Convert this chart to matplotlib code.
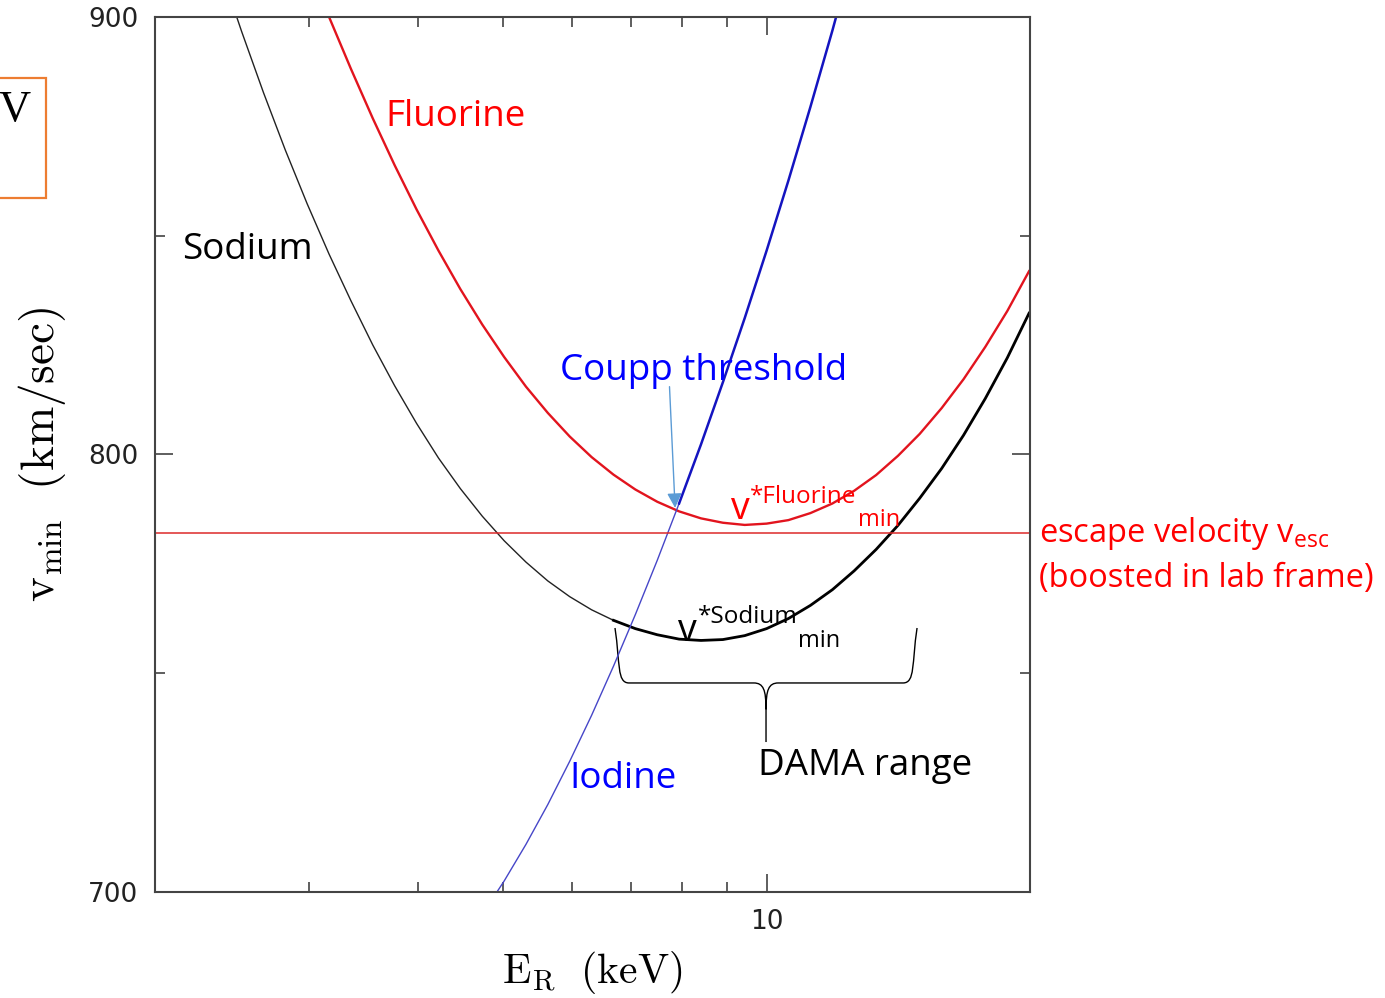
import matplotlib
matplotlib.use('Agg')
import matplotlib.pyplot as plt
from matplotlib.path import Path
from matplotlib.patches import PathPatch, Rectangle
from matplotlib.ticker import FixedLocator, FixedFormatter, NullFormatter

plt.rcParams['mathtext.fontset'] = 'cm'

# values: recoil energy (keV) and v_min (km/s)
sodium_E = [2.371, 2.512, 2.661, 2.818, 2.985, 3.162, 3.350, 3.548, 3.758, 3.981,
            4.217, 4.467, 4.732, 5.012, 5.309, 5.623, 5.957, 6.310, 6.683, 7.079,
            7.499, 7.943, 8.414, 8.913, 9.441, 10.00, 10.59, 11.22, 11.89, 12.59,
            13.34, 14.13, 14.96, 15.85, 16.79, 17.78, 18.84, 19.95]
sodium_v = [911.5, 896.7, 882.7, 869.6, 857.3, 845.8, 835.1, 825.0, 815.7, 807.1,
            799.2, 792.2, 785.9, 780.3, 775.4, 771.1, 767.5, 764.5, 762.1, 760.2,
            758.8, 757.8, 757.5, 757.7, 758.6, 760.2, 762.5, 765.5, 769.1, 773.4,
            778.3, 783.8, 790.0, 796.8, 804.4, 812.8, 822.1, 832.3]

fluorine_E = [3.162, 3.350, 3.548, 3.758, 3.981, 4.217, 4.467, 4.732, 5.012, 5.309,
              5.623, 5.957, 6.310, 6.683, 7.079, 7.499, 7.943, 8.414, 8.913, 9.441,
              10.00, 10.59, 11.22, 11.89, 12.59, 13.34, 14.13, 14.96, 15.85, 16.79,
              17.78, 18.84, 19.95]
fluorine_v = [900.0, 888.1, 876.8, 866.1, 856.0, 846.6, 837.8, 829.7, 822.3, 815.5,
              809.5, 804.1, 799.4, 795.4, 792.0, 789.2, 787.0, 785.4, 784.4, 783.9,
              784.2, 785.0, 786.6, 788.8, 791.7, 795.3, 799.7, 804.7, 810.6, 817.2,
              824.6, 832.8, 841.9]

iodine_E = [4.732, 5.012, 5.309, 5.623, 5.957, 6.310, 6.683, 7.079, 7.499, 7.943,
            8.414, 8.913, 9.441, 10.00, 10.59, 11.22, 11.89, 12.59]
iodine_v = [694.9, 702.5, 710.9, 720.0, 729.9, 740.4, 751.6, 763.4, 775.8, 788.8,
            802.3, 816.5, 831.2, 846.6, 862.6, 879.4, 896.9, 915.1]

v_esc = 782

x_major_ticks = [10]
x_major_labels = ['10']
x_minor_ticks = [2, 3, 4, 5, 6, 7, 8, 9, 20]
y_major_ticks = [700, 800, 900]
y_minor_ticks = [750, 850]

sodium_split = 18   # sodium curve drawn heavier from here on
iodine_split = 9    # Coupp part of the iodine line

fig = plt.figure(figsize=(13.85, 9.98), dpi=100)
ax = fig.add_axes([0.1119, 0.1062, 0.6318, 0.8768])

ax.set_xscale('log')
ax.set_xlim(2, 20)
ax.set_ylim(700, 900)

ax.plot(sodium_E[:sodium_split + 1], sodium_v[:sodium_split + 1], color='#222222', lw=1.0)
ax.plot(sodium_E[sodium_split:], sodium_v[sodium_split:], color='black', lw=2.0)
ax.plot(fluorine_E, fluorine_v, color='#E2141E', lw=1.7)
ax.plot(iodine_E[:iodine_split + 1], iodine_v[:iodine_split + 1], color='#4646C8', lw=1.0)
ax.plot(iodine_E[iodine_split:], iodine_v[iodine_split:], color='#1414C0', lw=1.8)
ax.axhline(v_esc, color='#DD2A2A', lw=1.1)

# axes styling
ax.xaxis.set_major_locator(FixedLocator(x_major_ticks))
ax.xaxis.set_major_formatter(FixedFormatter(x_major_labels))
ax.xaxis.set_minor_locator(FixedLocator(x_minor_ticks))
ax.xaxis.set_minor_formatter(NullFormatter())
ax.set_yticks(y_major_ticks)
ax.set_yticks(y_minor_ticks, minor=True)
ax.tick_params(which='both', direction='in', top=True, right=True, color='#333333',
               labelsize=19, labelcolor='#222222', pad=12)
ax.tick_params(which='major', length=13, width=1.1)
ax.tick_params(which='minor', length=7.5, width=1.1)
for s in ax.spines.values():
    s.set_color('#444444')
    s.set_linewidth(1.5)

ax.set_xlabel(r'$\mathrm{E_R\ \ (keV)}$', fontsize=30)
ax.set_ylabel(r'$\mathrm{v_{min}\ \ (km/sec)}$', fontsize=34)
ax.xaxis.label.set_va('center')
ax.yaxis.label.set_va('center')
ax.xaxis.set_label_coords(0.4994, -0.092)
ax.yaxis.set_label_coords(-0.129, 0.5)

# annotations
tf = 'Open Sans'
ax.text(3.665, 877.2, 'Fluorine', color='#FF0000', fontsize=26.5, family=tf, va='center')
ax.text(2.147, 846.8, 'Sodium', color='black', fontsize=26.5, family=tf, va='center')
ax.text(5.81, 819.1, 'Coupp threshold', color='#0000FF', fontsize=26.5, family=tf, va='center')
ax.text(5.95, 725.8, 'Iodine', color='#0000FF', fontsize=26.5, family=tf, va='center')
ax.text(9.766, 728.8, 'DAMA range', color='black', fontsize=26.5, family=tf, va='center')

ax.text(9.095, 787.6, 'v', color='#FF0000', fontsize=27, family=tf, va='center')
ax.text(9.562, 790.2, '*Fluorine', color='#FF0000', fontsize=17.5, family=tf, va='center')
ax.text(12.71, 785.0, 'min', color='#FF0000', fontsize=17, family=tf, va='center')
ax.text(7.93, 759.7, 'v', color='black', fontsize=27, family=tf, va='center')
ax.text(8.337, 762.8, '*Sodium', color='black', fontsize=17.5, family=tf, va='center')
ax.text(10.85, 757.3, 'min', color='black', fontsize=17, family=tf, va='center')

ax.text(20.47, 781.9, r'escape velocity v$_{\mathregular{esc}}$', color='#FF0000',
        fontsize=23.5, family=tf, va='center', clip_on=False)
ax.text(20.47, 771.6, '(boosted in lab frame)', color='#FF0000',
        fontsize=23.5, family=tf, va='center', clip_on=False)

ax.annotate('', xy=(7.86, 787.8), xytext=(7.745, 815.5),
            arrowprops=dict(arrowstyle='-|>', color='#5B9BD5', lw=1.0,
                            mutation_scale=22, shrinkA=0, shrinkB=0))

# curly brace under the sodium minimum (axes fraction)
x0, x1, xm = 0.5257, 0.8709, 0.6983
yt, yb, ytip = 0.3017, 0.2389, 0.1714
verts = [(x0, yt), (x0 + 0.006, yt - 0.04), (x0 + 0.002, yb), (x0 + 0.016, yb),
         (xm - 0.014, yb),
         (xm - 0.003, yb), (xm, yb - 0.008), (xm, yb - 0.03),
         (xm, ytip),
         (xm, yb - 0.03),
         (xm, yb - 0.008), (xm + 0.003, yb), (xm + 0.014, yb),
         (x1 - 0.016, yb),
         (x1 - 0.002, yb), (x1 - 0.006, yt - 0.04), (x1, yt)]
codes = [Path.MOVETO, Path.CURVE4, Path.CURVE4, Path.CURVE4,
         Path.LINETO,
         Path.CURVE4, Path.CURVE4, Path.CURVE4,
         Path.LINETO,
         Path.MOVETO,
         Path.CURVE4, Path.CURVE4, Path.CURVE4,
         Path.LINETO,
         Path.CURVE4, Path.CURVE4, Path.CURVE4]
ax.add_patch(PathPatch(Path(verts, codes), transform=ax.transAxes, fill=False,
                       edgecolor='black', lw=1.0, clip_on=False))

# leftover slide box at the left edge
fig.patches.append(Rectangle((-0.01, 0.8016), 0.0432, 0.1202, transform=fig.transFigure,
                             fill=False, edgecolor='#ED7D31', lw=1.6))
fig.text(0.0103, 0.8898, 'V', family='Liberation Serif', fontsize=32, ha='center', va='center')

fig.savefig('out.png', dpi=100)
